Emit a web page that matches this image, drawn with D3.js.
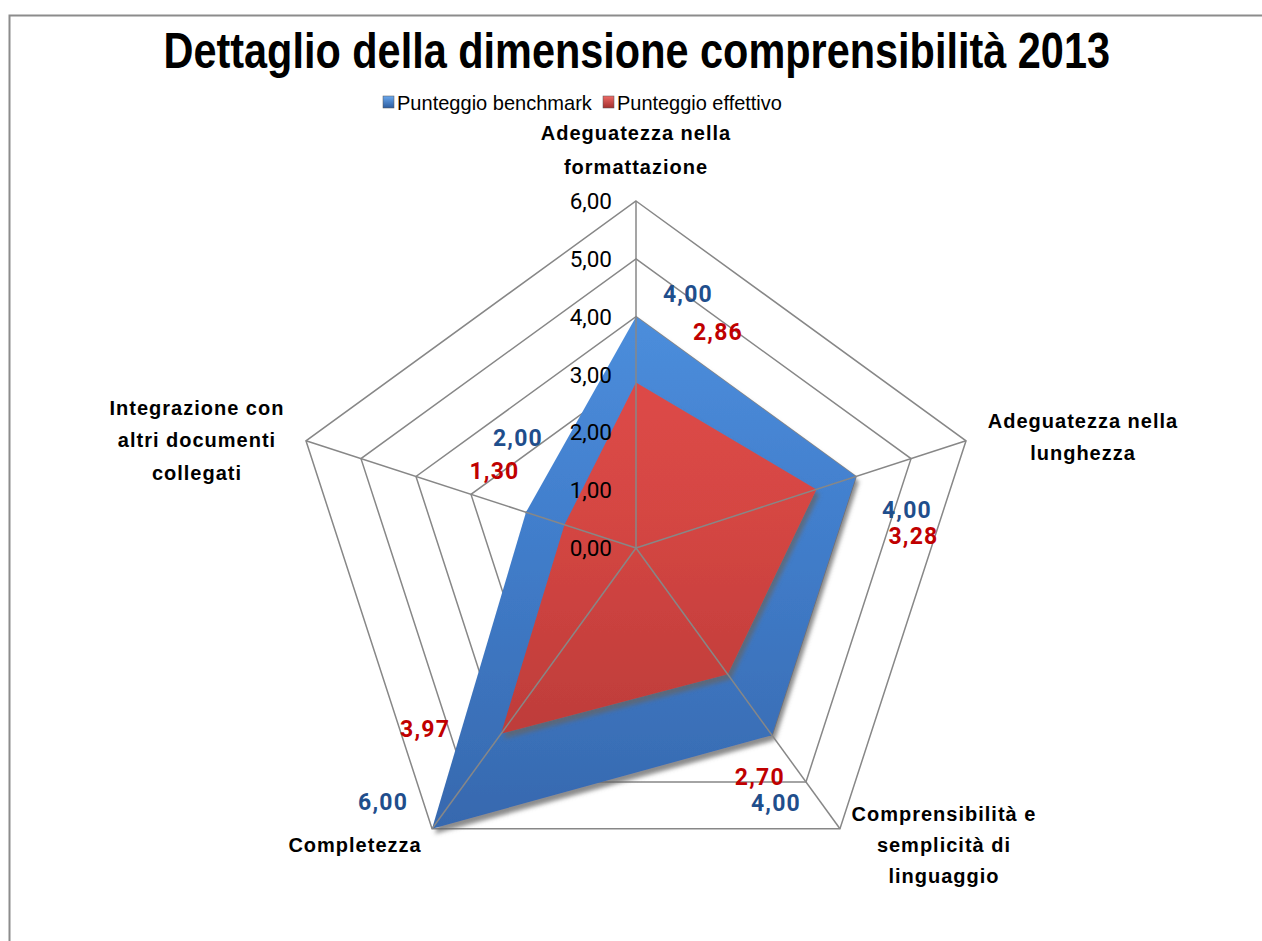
<!DOCTYPE html>
<html>
<head>
<meta charset="utf-8">
<script src="https://cdn.jsdelivr.net/npm/d3@7"></script>
<style>
  html, body { margin: 0; padding: 0; background: #fff; }
  svg { display: block; }
</style>
</head>
<body>
<svg id="chart" width="1262" height="941"></svg>
<script>
// ---------- data ----------
const title = "Dettaglio della dimensione comprensibilità 2013";
const categories = [
  "Adeguatezza nella formattazione",
  "Adeguatezza nella lunghezza",
  "Comprensibilità e semplicità di linguaggio",
  "Completezza",
  "Integrazione con altri documenti collegati"
];
const categoryLines = [
  ["Adeguatezza nella", "formattazione"],
  ["Adeguatezza nella", "lunghezza"],
  ["Comprensibilità e", "semplicità di", "linguaggio"],
  ["Completezza"],
  ["Integrazione con", "altri documenti", "collegati"]
];
const seriesNames = ["Punteggio benchmark", "Punteggio effettivo"];
const benchmark = [4.00, 4.00, 4.00, 6.00, 2.00];
const effettivo = [2.86, 3.28, 2.70, 3.97, 1.30];
const tickValues = [0, 1, 2, 3, 4, 5, 6];

// ---------- layout ----------
const W = 1262, H = 941;
const cx = 636, cy = 548, R = 347;
const svg = d3.select("#chart");

const rScale = d3.scaleLinear().domain([0, 6]).range([0, R]);
const aScale = d3.scaleLinear().domain([0, categories.length]).range([0, 2 * Math.PI]);
const fmt = v => d3.format(".2f")(v).replace(".", ",");

function pt(i, v) {
  const a = aScale(i);
  const r = rScale(v);
  return [cx + r * Math.sin(a), cy - r * Math.cos(a)];
}

// text squeezed horizontally to a target width (via transform, keeps real bbox)
function squeezedText(parent, str, x, y, width, anchor, attrs) {
  const g = parent.append("g");
  const t = g.append("text").attr("x", 0).attr("y", 0).text(str);
  Object.entries(attrs).forEach(([k, v]) => t.attr(k, v));
  const natural = t.node().getComputedTextLength();
  const s = Math.min(1, width / natural);
  let x0 = x;
  if (anchor === "middle") x0 = x - (natural * s) / 2;
  else if (anchor === "end") x0 = x - natural * s;
  g.attr("transform", `translate(${x0},${y}) scale(${s},1)`);
  return g;
}

// defs
const defs = svg.append("defs");
const gBlue = defs.append("linearGradient").attr("id", "gBlue")
  .attr("gradientUnits", "userSpaceOnUse").attr("x1", 0).attr("y1", cy - R).attr("x2", 0).attr("y2", cy + R);
gBlue.append("stop").attr("offset", "0%").attr("stop-color", "#5296e4");
gBlue.append("stop").attr("offset", "45%").attr("stop-color", "#427fcd");
gBlue.append("stop").attr("offset", "100%").attr("stop-color", "#3464a8");
const gRed = defs.append("linearGradient").attr("id", "gRed")
  .attr("gradientUnits", "userSpaceOnUse").attr("x1", 0).attr("y1", cy - R).attr("x2", 0).attr("y2", cy + R);
gRed.append("stop").attr("offset", "0%").attr("stop-color", "#e8504d");
gRed.append("stop").attr("offset", "45%").attr("stop-color", "#d54643");
gRed.append("stop").attr("offset", "100%").attr("stop-color", "#ad3633");

const shadow = defs.append("filter").attr("id", "shadow")
  .attr("x", "-10%").attr("y", "-10%").attr("width", "130%").attr("height", "130%");
shadow.append("feDropShadow").attr("dx", 3).attr("dy", 5).attr("stdDeviation", 2)
  .attr("flood-color", "#666").attr("flood-opacity", 0.75);

const lgBlue = defs.append("linearGradient").attr("id", "lgBlue").attr("x1", 0).attr("y1", 0).attr("x2", 0).attr("y2", 1);
lgBlue.append("stop").attr("offset", "0%").attr("stop-color", "#6aa8ee");
lgBlue.append("stop").attr("offset", "100%").attr("stop-color", "#2d5c9e");
const lgRed = defs.append("linearGradient").attr("id", "lgRed").attr("x1", 0).attr("y1", 0).attr("x2", 0).attr("y2", 1);
lgRed.append("stop").attr("offset", "0%").attr("stop-color", "#ee6a66");
lgRed.append("stop").attr("offset", "100%").attr("stop-color", "#a2302d");

// border
svg.append("rect").attr("x", 9.5).attr("y", 15.5).attr("width", W + 20).attr("height", H + 20)
  .attr("fill", "none").attr("stroke", "#8c8c8c").attr("stroke-width", 2);

// title
squeezedText(svg, title, 637, 68, 947, "middle", {
  "font-family": "'Liberation Sans Narrow', 'Arial Narrow', 'Liberation Sans', Arial, sans-serif",
  "font-weight": "bold", "font-size": 50, "fill": "#000"
});

// legend
const legendItems = [
  { name: seriesNames[0], fill: "url(#lgBlue)", x: 383, w: 195 },
  { name: seriesNames[1], fill: "url(#lgRed)", x: 603, w: 165 }
];
const lg = svg.append("g");
legendItems.forEach(d => {
  lg.append("rect").attr("x", d.x).attr("y", 96).attr("width", 11).attr("height", 12)
    .attr("fill", d.fill).attr("stroke", "#555").attr("stroke-width", 0.5);
  squeezedText(lg, d.name, d.x + 14, 110, d.w, "start", {
    "font-family": "'Liberation Sans Narrow', 'Arial Narrow', 'Liberation Sans', Arial, sans-serif",
    "font-size": 21, "fill": "#000"
  });
});

// grid rings
const gridColor = "#878787";
const ringLine = d3.line();
const grid = svg.append("g");
tickValues.filter(t => t > 0).forEach(t => {
  const pts = categories.map((c, i) => pt(i, t));
  grid.append("path").attr("d", ringLine(pts) + "Z")
    .attr("fill", "none").attr("stroke", gridColor).attr("stroke-width", 1.5);
});

// series areas
const area = d3.line();
const series = [
  { values: benchmark, fill: "url(#gBlue)" },
  { values: effettivo, fill: "url(#gRed)" }
];
series.forEach(s => {
  const pts = s.values.map((v, i) => pt(i, v));
  svg.append("path").attr("d", area(pts) + "Z")
    .attr("fill", s.fill).attr("filter", "url(#shadow)");
});

// spokes
const spokes = svg.append("g");
categories.forEach((c, i) => {
  const [x, y] = pt(i, 6);
  spokes.append("line").attr("x1", cx).attr("y1", cy).attr("x2", x).attr("y2", y)
    .attr("stroke", gridColor).attr("stroke-width", 1.5);
});

// tick labels
const tickG = svg.append("g");
tickValues.forEach(t => {
  const [x, y] = pt(0, t);
  tickG.append("text").attr("x", x - 24).attr("y", y)
    .attr("text-anchor", "end").attr("dominant-baseline", "central")
    .attr("font-family", "Roboto, 'Liberation Sans', sans-serif").attr("font-size", 22.5)
    .attr("fill", "#000").text(fmt(t));
});

// axis category labels
const catPos = [
  { dx: 0, dy: -68, anchor: "middle", lh: 34 },
  { dx: 117, dy: -20, anchor: "middle", lh: 32 },
  { dx: 104, dy: -15, anchor: "middle", lh: 31 },
  { dx: -77, dy: 16, anchor: "middle", lh: 31 },
  { dx: -109, dy: -33, anchor: "middle", lh: 32.5 }
];
const catG = svg.append("g");
categoryLines.forEach((lines, i) => {
  const [x, y] = pt(i, 6);
  const p = catPos[i];
  lines.forEach((ln, k) => {
    catG.append("text")
      .attr("x", x + p.dx).attr("y", y + p.dy + k * p.lh)
      .attr("text-anchor", p.anchor).attr("dominant-baseline", "central")
      .attr("font-family", "'Liberation Sans', Arial, sans-serif")
      .attr("font-weight", "bold").attr("font-size", 20)
      .attr("letter-spacing", 1.0)
      .attr("fill", "#000").text(ln);
  });
});

// data labels
const blueOff = [[52, -22], [51, 34], [4, 68], [-49, -26], [-8, -74]];
const redOff = [[82, -50], [97, 47], [32, 103], [-76, -4], [-70, -53]];
const dl = svg.append("g");
function drawLabels(values, offs, color) {
  values.forEach((v, i) => {
    const [x, y] = pt(i, v);
    dl.append("text").attr("x", x + offs[i][0]).attr("y", y + offs[i][1])
      .attr("text-anchor", "middle").attr("dominant-baseline", "central")
      .attr("font-family", "Roboto, 'Liberation Sans', sans-serif")
      .attr("font-weight", "bold").attr("font-size", 23)
      .attr("letter-spacing", 1.2)
      .attr("fill", color).text(fmt(v));
  });
}
drawLabels(benchmark, blueOff, "#1f4e8c");
drawLabels(effettivo, redOff, "#c00000");
</script>
</body>
</html>
